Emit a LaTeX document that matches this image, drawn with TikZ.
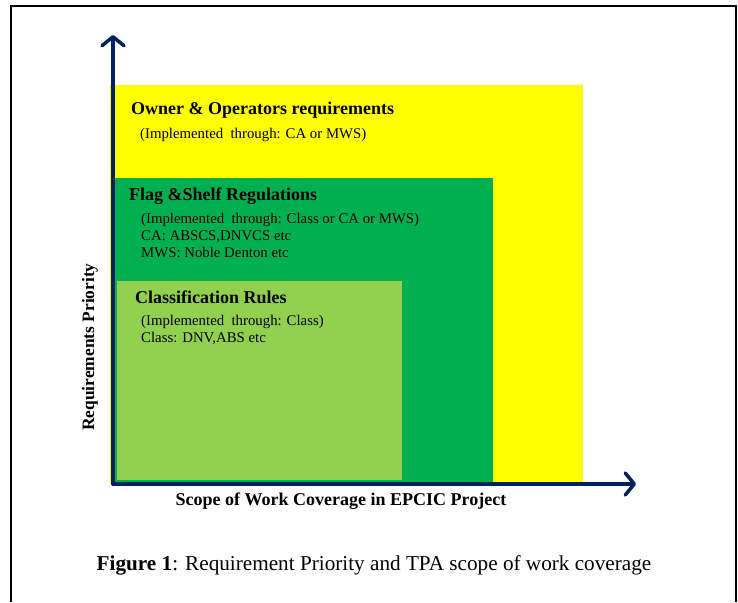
\documentclass[tikz,border=0pt]{standalone}
\usepackage{fontspec}
\setmainfont{Liberation Serif}
\usetikzlibrary{arrows.meta}

\definecolor{axisblue}{RGB}{0,32,96}
\definecolor{ownyellow}{RGB}{255,255,0}
\definecolor{flaggreen}{RGB}{0,176,80}
\definecolor{classgreen}{RGB}{146,208,80}

\tikzset{
  head/.style={anchor=base west, inner sep=0pt, font=\bfseries\fontsize{18}{21}\selectfont},
  sub/.style={anchor=base west, inner sep=0pt, font=\fontsize{14.8}{17}\selectfont},
  axis/.style={draw=axisblue, line width=3.5pt, line cap=round,
    -{Straight Barb[length=9pt,width=22pt,round]}}
}

\begin{document}
\begin{tikzpicture}[x=1pt,y=-1pt]

    \useasboundingbox (0,0) rectangle (738,602);

    %frame round the figure, open at the bottom
    \draw[line width=2.5pt] (11,602) -- (11,6) -- (736,6) -- (736,602);

    %nested scopes, largest first
    \fill[ownyellow] (110,85) rectangle (583,484);
    \fill[flaggreen] (115,178) rectangle (493,482);
    \fill[classgreen] (117,281) rectangle (402,480);

    %draw axis
    \coordinate (origin) at (113,484);
    \coordinate (ytip) at (113,35);
    \coordinate (xtip) at (636,484);
    \draw[axis] (origin) -- (ytip);
    \draw[axis] (origin) -- (xtip);

    %owner and operators
    \node[head] (owner) at (131,114) {Owner \& Operators requirements};
    \node[sub] (ownerimpl) at (140,138) {(Implemented\ \ through: CA or MWS)};

    %flag and shelf
    \node[head] (flag) at (129,200) {Flag \&Shelf Regulations};
    \node[sub] (flagimpl) at (141,223) {(Implemented\ \ through: Class or CA or MWS)};
    \node[sub] (flagca) at (141,240) {CA: ABSCS,DNVCS etc};
    \node[sub] (flagmws) at (141,257) {MWS: Noble Denton etc};

    %classification
    \node[head] (class) at (135,303) {Classification Rules};
    \node[sub] (classimpl) at (141,325) {(Implemented\ \ through: Class)};
    \node[sub] (classlist) at (141,342) {Class: DNV,ABS etc};

    %draw axis lables
    \node[head, anchor=base, rotate=90, font=\bfseries\fontsize{17.4}{20}\selectfont] (ylabel) at (94,347) {Requirements Priority};
    \node[head, anchor=base] (xlabel) at (341,505) {Scope of Work Coverage in EPCIC Project};

    %caption
    \node[anchor=base, inner sep=0pt, font=\fontsize{21.2}{25}\selectfont] (caption) at (374,570)
      {\textbf{Figure 1}: Requirement Priority and TPA scope of work coverage};

\end{tikzpicture}
\end{document}
